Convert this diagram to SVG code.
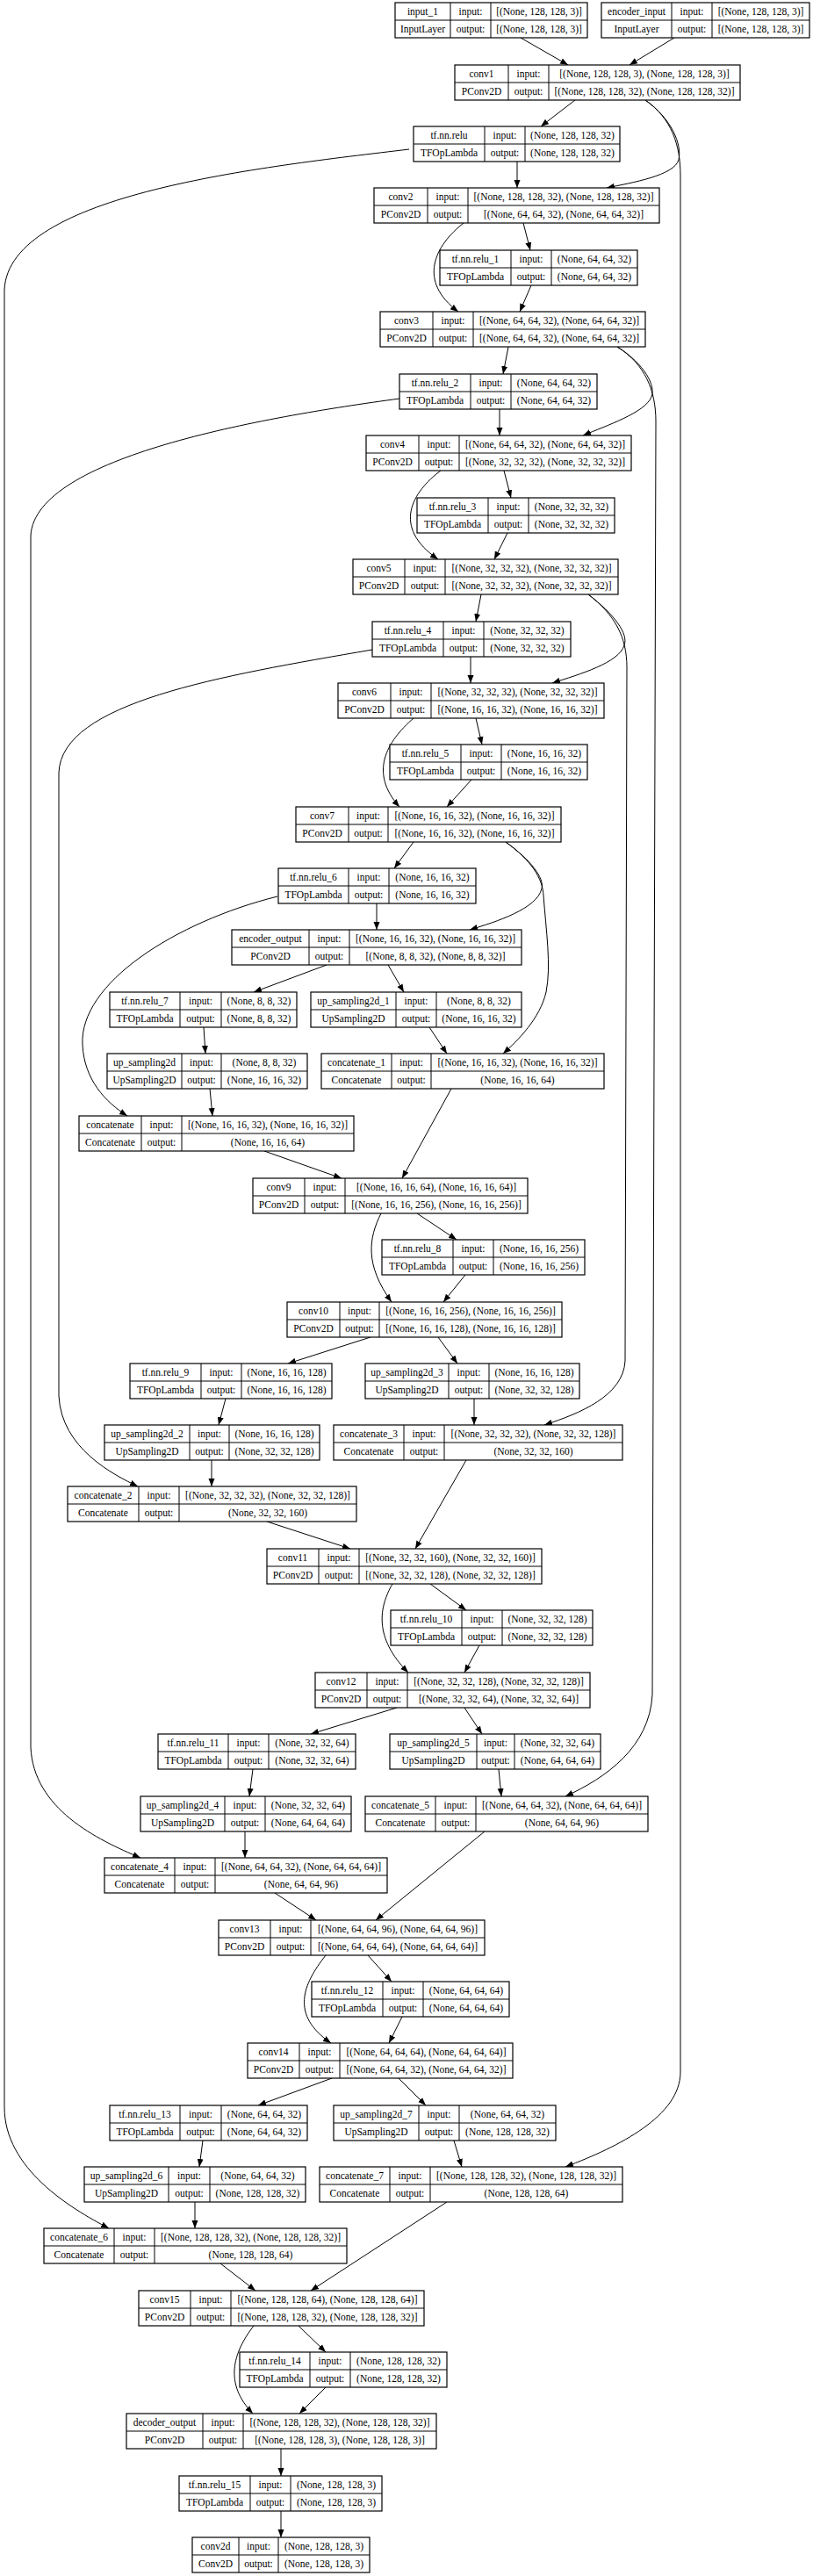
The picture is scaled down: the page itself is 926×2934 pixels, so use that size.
<svg xmlns="http://www.w3.org/2000/svg" width="926" height="2934" viewBox="0 0 926 2934">
<style>
.n rect{fill:#fff;stroke:#000;stroke-width:1.2}
.n path{fill:none;stroke:#000;stroke-width:1}
.n text{font-family:"Liberation Serif","Times New Roman",serif;font-size:11.5px;text-anchor:middle;fill:#000}
.e path{fill:none;stroke:#000;stroke-width:1;marker-end:url(#ah)}
</style>
<defs>
<marker id="ah" markerWidth="10" markerHeight="8" refX="9" refY="4" orient="auto" markerUnits="userSpaceOnUse"><path d="M0,0.5 L9,4 L0,7.5 z" fill="#000"/></marker>
</defs>
<rect width="926" height="2934" fill="#fff"/>
<g id="edges" class="e">
<path d="M593,43 L647,74"/>
<path d="M768,43 L717,74"/>
<path d="M655,114 L616,144"/>
<path d="M735,114 C765,135 777,165 773,182 C768,200 720,208 691,214"/>
<path d="M735,114 C765,135 775,165 775,200 L775,2360 C775,2410 705,2445 644,2468"/>
<path d="M589,184 L589,214"/>
<path d="M466,170 C300,190 10,220 5,330 L5,2400 C5,2470 80,2515 124,2538"/>
<path d="M596,254 L604,285"/>
<path d="M528,254 C495,280 475,320 522,355"/>
<path d="M605,325 L592,355"/>
<path d="M579,395 L573,426"/>
<path d="M703,395 C735,415 747,440 742,452 C735,470 690,485 664,496"/>
<path d="M703,395 C735,415 747,445 747,480 L743,1930 C740,1990 690,2025 644,2046"/>
<path d="M569,466 L569,496"/>
<path d="M455,454 C300,475 40,520 35,610 L35,1990 C38,2060 110,2095 160,2116"/>
<path d="M574,536 L582,567"/>
<path d="M502,536 C470,560 445,600 499,637"/>
<path d="M578,607 L563,637"/>
<path d="M548,677 L542,708"/>
<path d="M670,677 C700,700 716,722 711,735 C705,755 660,768 629,778"/>
<path d="M670,677 C700,700 714,725 714,760 L712,1550 C710,1590 660,1610 620,1623"/>
<path d="M536,748 L536,778"/>
<path d="M424,740 C250,770 70,800 67,880 L67,1590 C70,1650 130,1680 157,1693"/>
<path d="M542,818 L549,848"/>
<path d="M471,818 C440,845 420,880 455,919"/>
<path d="M537,888 L509,919"/>
<path d="M471,959 L449,989"/>
<path d="M576,959 C605,980 620,1000 617,1012 C612,1035 565,1050 535,1059"/>
<path d="M576,959 C605,980 618,1000 619,1020 C622,1060 628,1100 622,1130 C615,1160 590,1185 573,1200"/>
<path d="M429,1029 L429,1059"/>
<path d="M316,1021 C200,1050 90,1120 94,1190 C96,1230 120,1255 145,1271"/>
<path d="M372,1099 L289,1130"/>
<path d="M442,1099 L460,1130"/>
<path d="M232,1170 L234,1200"/>
<path d="M489,1170 L509,1200"/>
<path d="M239,1240 L242,1271"/>
<path d="M301,1311 L389,1342"/>
<path d="M514,1240 L458,1342"/>
<path d="M475,1382 L520,1412"/>
<path d="M434,1382 C420,1410 415,1440 446,1483"/>
<path d="M530,1452 L505,1483"/>
<path d="M422,1523 L328,1553"/>
<path d="M499,1523 L521,1553"/>
<path d="M257,1593 L249,1623"/>
<path d="M540,1593 L540,1623"/>
<path d="M241,1663 L241,1693"/>
<path d="M531,1663 L473,1764"/>
<path d="M304,1733 L399,1764"/>
<path d="M490,1804 L531,1834"/>
<path d="M447,1804 C432,1830 425,1865 465,1905"/>
<path d="M546,1874 L529,1905"/>
<path d="M452,1945 L354,1975"/>
<path d="M529,1945 L549,1975"/>
<path d="M288,2015 L284,2046"/>
<path d="M568,2015 L571,2046"/>
<path d="M279,2086 L279,2116"/>
<path d="M313,2156 L360,2187"/>
<path d="M552,2086 L428,2187"/>
<path d="M419,2227 L446,2257"/>
<path d="M371,2227 C345,2260 330,2295 377,2327"/>
<path d="M458,2297 L443,2327"/>
<path d="M378,2367 L294,2398"/>
<path d="M454,2367 L485,2398"/>
<path d="M231,2438 L227,2468"/>
<path d="M517,2438 L526,2468"/>
<path d="M222,2508 L222,2538"/>
<path d="M251,2578 L291,2609"/>
<path d="M509,2508 L354,2609"/>
<path d="M340,2649 L371,2679"/>
<path d="M289,2649 C265,2680 255,2715 288,2749"/>
<path d="M371,2719 L341,2749"/>
<path d="M320,2789 L320,2820"/>
<path d="M320,2860 L320,2890"/>
</g>
<g id="input_1" class="n"><rect x="450" y="3" width="219" height="40"/><path d="M513,3V43M559,3V43M450,23H669"/><text x="481.5" y="17">input_1</text><text x="536" y="17">input:</text><text x="614" y="17">[(None, 128, 128, 3)]</text><text x="481.5" y="37">InputLayer</text><text x="536" y="37">output:</text><text x="614" y="37">[(None, 128, 128, 3)]</text></g>
<g id="encoder_input" class="n"><rect x="685" y="3" width="237" height="40"/><path d="M765,3V43M811,3V43M685,23H922"/><text x="725" y="17">encoder_input</text><text x="788" y="17">input:</text><text x="866.5" y="17">[(None, 128, 128, 3)]</text><text x="725" y="37">InputLayer</text><text x="788" y="37">output:</text><text x="866.5" y="37">[(None, 128, 128, 3)]</text></g>
<g id="conv1" class="n"><rect x="518" y="74" width="325" height="40"/><path d="M579,74V114M625,74V114M518,94H843"/><text x="548.5" y="88">conv1</text><text x="602" y="88">input:</text><text x="734" y="88">[(None, 128, 128, 3), (None, 128, 128, 3)]</text><text x="548.5" y="108">PConv2D</text><text x="602" y="108">output:</text><text x="734" y="108">[(None, 128, 128, 32), (None, 128, 128, 32)]</text></g>
<g id="tf.nn.relu" class="n"><rect x="471" y="144" width="235" height="40"/><path d="M552,144V184M598,144V184M471,164H706"/><text x="511.5" y="158">tf.nn.relu</text><text x="575" y="158">input:</text><text x="652" y="158">(None, 128, 128, 32)</text><text x="511.5" y="178">TFOpLambda</text><text x="575" y="178">output:</text><text x="652" y="178">(None, 128, 128, 32)</text></g>
<g id="conv2" class="n"><rect x="426" y="214" width="325" height="40"/><path d="M487,214V254M533,214V254M426,234H751"/><text x="456.5" y="228">conv2</text><text x="510" y="228">input:</text><text x="642" y="228">[(None, 128, 128, 32), (None, 128, 128, 32)]</text><text x="456.5" y="248">PConv2D</text><text x="510" y="248">output:</text><text x="642" y="248">[(None, 64, 64, 32), (None, 64, 64, 32)]</text></g>
<g id="tf.nn.relu_1" class="n"><rect x="501" y="285" width="225" height="40"/><path d="M582,285V325M628,285V325M501,305H726"/><text x="541.5" y="299">tf.nn.relu_1</text><text x="605" y="299">input:</text><text x="677" y="299">(None, 64, 64, 32)</text><text x="541.5" y="319">TFOpLambda</text><text x="605" y="319">output:</text><text x="677" y="319">(None, 64, 64, 32)</text></g>
<g id="conv3" class="n"><rect x="433" y="355" width="302" height="40"/><path d="M493,355V395M539,355V395M433,375H735"/><text x="463" y="369">conv3</text><text x="516" y="369">input:</text><text x="637" y="369">[(None, 64, 64, 32), (None, 64, 64, 32)]</text><text x="463" y="389">PConv2D</text><text x="516" y="389">output:</text><text x="637" y="389">[(None, 64, 64, 32), (None, 64, 64, 32)]</text></g>
<g id="tf.nn.relu_2" class="n"><rect x="455" y="426" width="225" height="40"/><path d="M536,426V466M582,426V466M455,446H680"/><text x="495.5" y="440">tf.nn.relu_2</text><text x="559" y="440">input:</text><text x="631" y="440">(None, 64, 64, 32)</text><text x="495.5" y="460">TFOpLambda</text><text x="559" y="460">output:</text><text x="631" y="460">(None, 64, 64, 32)</text></g>
<g id="conv4" class="n"><rect x="417" y="496" width="302" height="40"/><path d="M477,496V536M523,496V536M417,516H719"/><text x="447" y="510">conv4</text><text x="500" y="510">input:</text><text x="621" y="510">[(None, 64, 64, 32), (None, 64, 64, 32)]</text><text x="447" y="530">PConv2D</text><text x="500" y="530">output:</text><text x="621" y="530">[(None, 32, 32, 32), (None, 32, 32, 32)]</text></g>
<g id="tf.nn.relu_3" class="n"><rect x="475" y="567" width="225" height="40"/><path d="M556,567V607M602,567V607M475,587H700"/><text x="515.5" y="581">tf.nn.relu_3</text><text x="579" y="581">input:</text><text x="651" y="581">(None, 32, 32, 32)</text><text x="515.5" y="601">TFOpLambda</text><text x="579" y="601">output:</text><text x="651" y="601">(None, 32, 32, 32)</text></g>
<g id="conv5" class="n"><rect x="402" y="637" width="302" height="40"/><path d="M461,637V677M507,637V677M402,657H704"/><text x="431.5" y="651">conv5</text><text x="484" y="651">input:</text><text x="605.5" y="651">[(None, 32, 32, 32), (None, 32, 32, 32)]</text><text x="431.5" y="671">PConv2D</text><text x="484" y="671">output:</text><text x="605.5" y="671">[(None, 32, 32, 32), (None, 32, 32, 32)]</text></g>
<g id="tf.nn.relu_4" class="n"><rect x="424" y="708" width="226" height="40"/><path d="M505,708V748M551,708V748M424,728H650"/><text x="464.5" y="722">tf.nn.relu_4</text><text x="528" y="722">input:</text><text x="600.5" y="722">(None, 32, 32, 32)</text><text x="464.5" y="742">TFOpLambda</text><text x="528" y="742">output:</text><text x="600.5" y="742">(None, 32, 32, 32)</text></g>
<g id="conv6" class="n"><rect x="385" y="778" width="303" height="40"/><path d="M445,778V818M491,778V818M385,798H688"/><text x="415" y="792">conv6</text><text x="468" y="792">input:</text><text x="589.5" y="792">[(None, 32, 32, 32), (None, 32, 32, 32)]</text><text x="415" y="812">PConv2D</text><text x="468" y="812">output:</text><text x="589.5" y="812">[(None, 16, 16, 32), (None, 16, 16, 32)]</text></g>
<g id="tf.nn.relu_5" class="n"><rect x="444" y="848" width="225" height="40"/><path d="M525,848V888M571,848V888M444,868H669"/><text x="484.5" y="862">tf.nn.relu_5</text><text x="548" y="862">input:</text><text x="620" y="862">(None, 16, 16, 32)</text><text x="484.5" y="882">TFOpLambda</text><text x="548" y="882">output:</text><text x="620" y="882">(None, 16, 16, 32)</text></g>
<g id="conv7" class="n"><rect x="337" y="919" width="302" height="40"/><path d="M397,919V959M442,919V959M337,939H639"/><text x="367" y="933">conv7</text><text x="419.5" y="933">input:</text><text x="540.5" y="933">[(None, 16, 16, 32), (None, 16, 16, 32)]</text><text x="367" y="953">PConv2D</text><text x="419.5" y="953">output:</text><text x="540.5" y="953">[(None, 16, 16, 32), (None, 16, 16, 32)]</text></g>
<g id="tf.nn.relu_6" class="n"><rect x="317" y="989" width="225" height="40"/><path d="M397,989V1029M443,989V1029M317,1009H542"/><text x="357" y="1003">tf.nn.relu_6</text><text x="420" y="1003">input:</text><text x="492.5" y="1003">(None, 16, 16, 32)</text><text x="357" y="1023">TFOpLambda</text><text x="420" y="1023">output:</text><text x="492.5" y="1023">(None, 16, 16, 32)</text></g>
<g id="encoder_output" class="n"><rect x="264" y="1059" width="330" height="40"/><path d="M352,1059V1099M398,1059V1099M264,1079H594"/><text x="308" y="1073">encoder_output</text><text x="375" y="1073">input:</text><text x="496" y="1073">[(None, 16, 16, 32), (None, 16, 16, 32)]</text><text x="308" y="1093">PConv2D</text><text x="375" y="1093">output:</text><text x="496" y="1093">[(None, 8, 8, 32), (None, 8, 8, 32)]</text></g>
<g id="tf.nn.relu_7" class="n"><rect x="125" y="1130" width="213" height="40"/><path d="M205,1130V1170M252,1130V1170M125,1150H338"/><text x="165" y="1144">tf.nn.relu_7</text><text x="228.5" y="1144">input:</text><text x="295" y="1144">(None, 8, 8, 32)</text><text x="165" y="1164">TFOpLambda</text><text x="228.5" y="1164">output:</text><text x="295" y="1164">(None, 8, 8, 32)</text></g>
<g id="up_sampling2d_1" class="n"><rect x="354" y="1130" width="240" height="40"/><path d="M451,1130V1170M497,1130V1170M354,1150H594"/><text x="402.5" y="1144">up_sampling2d_1</text><text x="474" y="1144">input:</text><text x="545.5" y="1144">(None, 8, 8, 32)</text><text x="402.5" y="1164">UpSampling2D</text><text x="474" y="1164">output:</text><text x="545.5" y="1164">(None, 16, 16, 32)</text></g>
<g id="up_sampling2d" class="n"><rect x="122" y="1200" width="228" height="40"/><path d="M207,1200V1240M252,1200V1240M122,1220H350"/><text x="164.5" y="1214">up_sampling2d</text><text x="229.5" y="1214">input:</text><text x="301" y="1214">(None, 8, 8, 32)</text><text x="164.5" y="1234">UpSampling2D</text><text x="229.5" y="1234">output:</text><text x="301" y="1234">(None, 16, 16, 32)</text></g>
<g id="concatenate_1" class="n"><rect x="366" y="1200" width="322" height="40"/><path d="M446,1200V1240M491,1200V1240M366,1220H688"/><text x="406" y="1214">concatenate_1</text><text x="468.5" y="1214">input:</text><text x="589.5" y="1214">[(None, 16, 16, 32), (None, 16, 16, 32)]</text><text x="406" y="1234">Concatenate</text><text x="468.5" y="1234">output:</text><text x="589.5" y="1234">(None, 16, 16, 64)</text></g>
<g id="concatenate" class="n"><rect x="90" y="1271" width="313" height="40"/><path d="M161,1271V1311M207,1271V1311M90,1291H403"/><text x="125.5" y="1285">concatenate</text><text x="184" y="1285">input:</text><text x="305" y="1285">[(None, 16, 16, 32), (None, 16, 16, 32)]</text><text x="125.5" y="1305">Concatenate</text><text x="184" y="1305">output:</text><text x="305" y="1305">(None, 16, 16, 64)</text></g>
<g id="conv9" class="n"><rect x="288" y="1342" width="313" height="40"/><path d="M347,1342V1382M393,1342V1382M288,1362H601"/><text x="317.5" y="1356">conv9</text><text x="370" y="1356">input:</text><text x="497" y="1356">[(None, 16, 16, 64), (None, 16, 16, 64)]</text><text x="317.5" y="1376">PConv2D</text><text x="370" y="1376">output:</text><text x="497" y="1376">[(None, 16, 16, 256), (None, 16, 16, 256)]</text></g>
<g id="tf.nn.relu_8" class="n"><rect x="435" y="1412" width="231" height="40"/><path d="M516,1412V1452M562,1412V1452M435,1432H666"/><text x="475.5" y="1426">tf.nn.relu_8</text><text x="539" y="1426">input:</text><text x="614" y="1426">(None, 16, 16, 256)</text><text x="475.5" y="1446">TFOpLambda</text><text x="539" y="1446">output:</text><text x="614" y="1446">(None, 16, 16, 256)</text></g>
<g id="conv10" class="n"><rect x="327" y="1483" width="313" height="40"/><path d="M387,1483V1523M432,1483V1523M327,1503H640"/><text x="357" y="1497">conv10</text><text x="409.5" y="1497">input:</text><text x="536" y="1497">[(None, 16, 16, 256), (None, 16, 16, 256)]</text><text x="357" y="1517">PConv2D</text><text x="409.5" y="1517">output:</text><text x="536" y="1517">[(None, 16, 16, 128), (None, 16, 16, 128)]</text></g>
<g id="tf.nn.relu_9" class="n"><rect x="148" y="1553" width="230" height="40"/><path d="M229,1553V1593M275,1553V1593M148,1573H378"/><text x="188.5" y="1567">tf.nn.relu_9</text><text x="252" y="1567">input:</text><text x="326.5" y="1567">(None, 16, 16, 128)</text><text x="188.5" y="1587">TFOpLambda</text><text x="252" y="1587">output:</text><text x="326.5" y="1587">(None, 16, 16, 128)</text></g>
<g id="up_sampling2d_3" class="n"><rect x="416" y="1553" width="244" height="40"/><path d="M511,1553V1593M557,1553V1593M416,1573H660"/><text x="463.5" y="1567">up_sampling2d_3</text><text x="534" y="1567">input:</text><text x="608.5" y="1567">(None, 16, 16, 128)</text><text x="463.5" y="1587">UpSampling2D</text><text x="534" y="1587">output:</text><text x="608.5" y="1587">(None, 32, 32, 128)</text></g>
<g id="up_sampling2d_2" class="n"><rect x="119" y="1623" width="245" height="40"/><path d="M216,1623V1663M261,1623V1663M119,1643H364"/><text x="167.5" y="1637">up_sampling2d_2</text><text x="238.5" y="1637">input:</text><text x="312.5" y="1637">(None, 16, 16, 128)</text><text x="167.5" y="1657">UpSampling2D</text><text x="238.5" y="1657">output:</text><text x="312.5" y="1657">(None, 32, 32, 128)</text></g>
<g id="concatenate_3" class="n"><rect x="380" y="1623" width="329" height="40"/><path d="M460,1623V1663M506,1623V1663M380,1643H709"/><text x="420" y="1637">concatenate_3</text><text x="483" y="1637">input:</text><text x="607.5" y="1637">[(None, 32, 32, 32), (None, 32, 32, 128)]</text><text x="420" y="1657">Concatenate</text><text x="483" y="1657">output:</text><text x="607.5" y="1657">(None, 32, 32, 160)</text></g>
<g id="concatenate_2" class="n"><rect x="77" y="1693" width="329" height="40"/><path d="M158,1693V1733M204,1693V1733M77,1713H406"/><text x="117.5" y="1707">concatenate_2</text><text x="181" y="1707">input:</text><text x="305" y="1707">[(None, 32, 32, 32), (None, 32, 32, 128)]</text><text x="117.5" y="1727">Concatenate</text><text x="181" y="1727">output:</text><text x="305" y="1727">(None, 32, 32, 160)</text></g>
<g id="conv11" class="n"><rect x="304" y="1764" width="313" height="40"/><path d="M363,1764V1804M409,1764V1804M304,1784H617"/><text x="333.5" y="1778">conv11</text><text x="386" y="1778">input:</text><text x="513" y="1778">[(None, 32, 32, 160), (None, 32, 32, 160)]</text><text x="333.5" y="1798">PConv2D</text><text x="386" y="1798">output:</text><text x="513" y="1798">[(None, 32, 32, 128), (None, 32, 32, 128)]</text></g>
<g id="tf.nn.relu_10" class="n"><rect x="445" y="1834" width="230" height="40"/><path d="M526,1834V1874M572,1834V1874M445,1854H675"/><text x="485.5" y="1848">tf.nn.relu_10</text><text x="549" y="1848">input:</text><text x="623.5" y="1848">(None, 32, 32, 128)</text><text x="485.5" y="1868">TFOpLambda</text><text x="549" y="1868">output:</text><text x="623.5" y="1868">(None, 32, 32, 128)</text></g>
<g id="conv12" class="n"><rect x="359" y="1905" width="313" height="40"/><path d="M418,1905V1945M464,1905V1945M359,1925H672"/><text x="388.5" y="1919">conv12</text><text x="441" y="1919">input:</text><text x="568" y="1919">[(None, 32, 32, 128), (None, 32, 32, 128)]</text><text x="388.5" y="1939">PConv2D</text><text x="441" y="1939">output:</text><text x="568" y="1939">[(None, 32, 32, 64), (None, 32, 32, 64)]</text></g>
<g id="tf.nn.relu_11" class="n"><rect x="180" y="1975" width="225" height="40"/><path d="M260,1975V2015M306,1975V2015M180,1995H405"/><text x="220" y="1989">tf.nn.relu_11</text><text x="283" y="1989">input:</text><text x="355.5" y="1989">(None, 32, 32, 64)</text><text x="220" y="2009">TFOpLambda</text><text x="283" y="2009">output:</text><text x="355.5" y="2009">(None, 32, 32, 64)</text></g>
<g id="up_sampling2d_5" class="n"><rect x="444" y="1975" width="240" height="40"/><path d="M543,1975V2015M586,1975V2015M444,1995H684"/><text x="493.5" y="1989">up_sampling2d_5</text><text x="564.5" y="1989">input:</text><text x="635" y="1989">(None, 32, 32, 64)</text><text x="493.5" y="2009">UpSampling2D</text><text x="564.5" y="2009">output:</text><text x="635" y="2009">(None, 64, 64, 64)</text></g>
<g id="up_sampling2d_4" class="n"><rect x="160" y="2046" width="240" height="40"/><path d="M256,2046V2086M302,2046V2086M160,2066H400"/><text x="208" y="2060">up_sampling2d_4</text><text x="279" y="2060">input:</text><text x="351" y="2060">(None, 32, 32, 64)</text><text x="208" y="2080">UpSampling2D</text><text x="279" y="2080">output:</text><text x="351" y="2080">(None, 64, 64, 64)</text></g>
<g id="concatenate_5" class="n"><rect x="416" y="2046" width="322" height="40"/><path d="M496,2046V2086M542,2046V2086M416,2066H738"/><text x="456" y="2060">concatenate_5</text><text x="519" y="2060">input:</text><text x="640" y="2060">[(None, 64, 64, 32), (None, 64, 64, 64)]</text><text x="456" y="2080">Concatenate</text><text x="519" y="2080">output:</text><text x="640" y="2080">(None, 64, 64, 96)</text></g>
<g id="concatenate_4" class="n"><rect x="119" y="2116" width="322" height="40"/><path d="M199,2116V2156M245,2116V2156M119,2136H441"/><text x="159" y="2130">concatenate_4</text><text x="222" y="2130">input:</text><text x="343" y="2130">[(None, 64, 64, 32), (None, 64, 64, 64)]</text><text x="159" y="2150">Concatenate</text><text x="222" y="2150">output:</text><text x="343" y="2150">(None, 64, 64, 96)</text></g>
<g id="conv13" class="n"><rect x="249" y="2187" width="303" height="40"/><path d="M308,2187V2227M354,2187V2227M249,2207H552"/><text x="278.5" y="2201">conv13</text><text x="331" y="2201">input:</text><text x="453" y="2201">[(None, 64, 64, 96), (None, 64, 64, 96)]</text><text x="278.5" y="2221">PConv2D</text><text x="331" y="2221">output:</text><text x="453" y="2221">[(None, 64, 64, 64), (None, 64, 64, 64)]</text></g>
<g id="tf.nn.relu_12" class="n"><rect x="355" y="2257" width="225" height="40"/><path d="M436,2257V2297M482,2257V2297M355,2277H580"/><text x="395.5" y="2271">tf.nn.relu_12</text><text x="459" y="2271">input:</text><text x="531" y="2271">(None, 64, 64, 64)</text><text x="395.5" y="2291">TFOpLambda</text><text x="459" y="2291">output:</text><text x="531" y="2291">(None, 64, 64, 64)</text></g>
<g id="conv14" class="n"><rect x="282" y="2327" width="302" height="40"/><path d="M341,2327V2367M387,2327V2367M282,2347H584"/><text x="311.5" y="2341">conv14</text><text x="364" y="2341">input:</text><text x="485.5" y="2341">[(None, 64, 64, 64), (None, 64, 64, 64)]</text><text x="311.5" y="2361">PConv2D</text><text x="364" y="2361">output:</text><text x="485.5" y="2361">[(None, 64, 64, 32), (None, 64, 64, 32)]</text></g>
<g id="tf.nn.relu_13" class="n"><rect x="125" y="2398" width="225" height="40"/><path d="M205,2398V2438M252,2398V2438M125,2418H350"/><text x="165" y="2412">tf.nn.relu_13</text><text x="228.5" y="2412">input:</text><text x="301" y="2412">(None, 64, 64, 32)</text><text x="165" y="2432">TFOpLambda</text><text x="228.5" y="2432">output:</text><text x="301" y="2432">(None, 64, 64, 32)</text></g>
<g id="up_sampling2d_7" class="n"><rect x="380" y="2398" width="253" height="40"/><path d="M477,2398V2438M523,2398V2438M380,2418H633"/><text x="428.5" y="2412">up_sampling2d_7</text><text x="500" y="2412">input:</text><text x="578" y="2412">(None, 64, 64, 32)</text><text x="428.5" y="2432">UpSampling2D</text><text x="500" y="2432">output:</text><text x="578" y="2432">(None, 128, 128, 32)</text></g>
<g id="up_sampling2d_6" class="n"><rect x="96" y="2468" width="252" height="40"/><path d="M192,2468V2508M239,2468V2508M96,2488H348"/><text x="144" y="2482">up_sampling2d_6</text><text x="215.5" y="2482">input:</text><text x="293.5" y="2482">(None, 64, 64, 32)</text><text x="144" y="2502">UpSampling2D</text><text x="215.5" y="2502">output:</text><text x="293.5" y="2502">(None, 128, 128, 32)</text></g>
<g id="concatenate_7" class="n"><rect x="364" y="2468" width="345" height="40"/><path d="M444,2468V2508M490,2468V2508M364,2488H709"/><text x="404" y="2482">concatenate_7</text><text x="467" y="2482">input:</text><text x="599.5" y="2482">[(None, 128, 128, 32), (None, 128, 128, 32)]</text><text x="404" y="2502">Concatenate</text><text x="467" y="2502">output:</text><text x="599.5" y="2502">(None, 128, 128, 64)</text></g>
<g id="concatenate_6" class="n"><rect x="50" y="2538" width="345" height="40"/><path d="M130,2538V2578M176,2538V2578M50,2558H395"/><text x="90" y="2552">concatenate_6</text><text x="153" y="2552">input:</text><text x="285.5" y="2552">[(None, 128, 128, 32), (None, 128, 128, 32)]</text><text x="90" y="2572">Concatenate</text><text x="153" y="2572">output:</text><text x="285.5" y="2572">(None, 128, 128, 64)</text></g>
<g id="conv15" class="n"><rect x="158" y="2609" width="325" height="40"/><path d="M217,2609V2649M263,2609V2649M158,2629H483"/><text x="187.5" y="2623">conv15</text><text x="240" y="2623">input:</text><text x="373" y="2623">[(None, 128, 128, 64), (None, 128, 128, 64)]</text><text x="187.5" y="2643">PConv2D</text><text x="240" y="2643">output:</text><text x="373" y="2643">[(None, 128, 128, 32), (None, 128, 128, 32)]</text></g>
<g id="tf.nn.relu_14" class="n"><rect x="273" y="2679" width="236" height="40"/><path d="M353,2679V2719M399,2679V2719M273,2699H509"/><text x="313" y="2693">tf.nn.relu_14</text><text x="376" y="2693">input:</text><text x="454" y="2693">(None, 128, 128, 32)</text><text x="313" y="2713">TFOpLambda</text><text x="376" y="2713">output:</text><text x="454" y="2713">(None, 128, 128, 32)</text></g>
<g id="decoder_output" class="n"><rect x="144" y="2749" width="353" height="40"/><path d="M231,2749V2789M277,2749V2789M144,2769H497"/><text x="187.5" y="2763">decoder_output</text><text x="254" y="2763">input:</text><text x="387" y="2763">[(None, 128, 128, 32), (None, 128, 128, 32)]</text><text x="187.5" y="2783">PConv2D</text><text x="254" y="2783">output:</text><text x="387" y="2783">[(None, 128, 128, 3), (None, 128, 128, 3)]</text></g>
<g id="tf.nn.relu_15" class="n"><rect x="204" y="2820" width="231" height="40"/><path d="M285,2820V2860M331,2820V2860M204,2840H435"/><text x="244.5" y="2834">tf.nn.relu_15</text><text x="308" y="2834">input:</text><text x="383" y="2834">(None, 128, 128, 3)</text><text x="244.5" y="2854">TFOpLambda</text><text x="308" y="2854">output:</text><text x="383" y="2854">(None, 128, 128, 3)</text></g>
<g id="conv2d" class="n"><rect x="219" y="2890" width="202" height="40"/><path d="M272,2890V2930M317,2890V2930M219,2910H421"/><text x="245.5" y="2904">conv2d</text><text x="294.5" y="2904">input:</text><text x="369" y="2904">(None, 128, 128, 3)</text><text x="245.5" y="2924">Conv2D</text><text x="294.5" y="2924">output:</text><text x="369" y="2924">(None, 128, 128, 3)</text></g>
</svg>
